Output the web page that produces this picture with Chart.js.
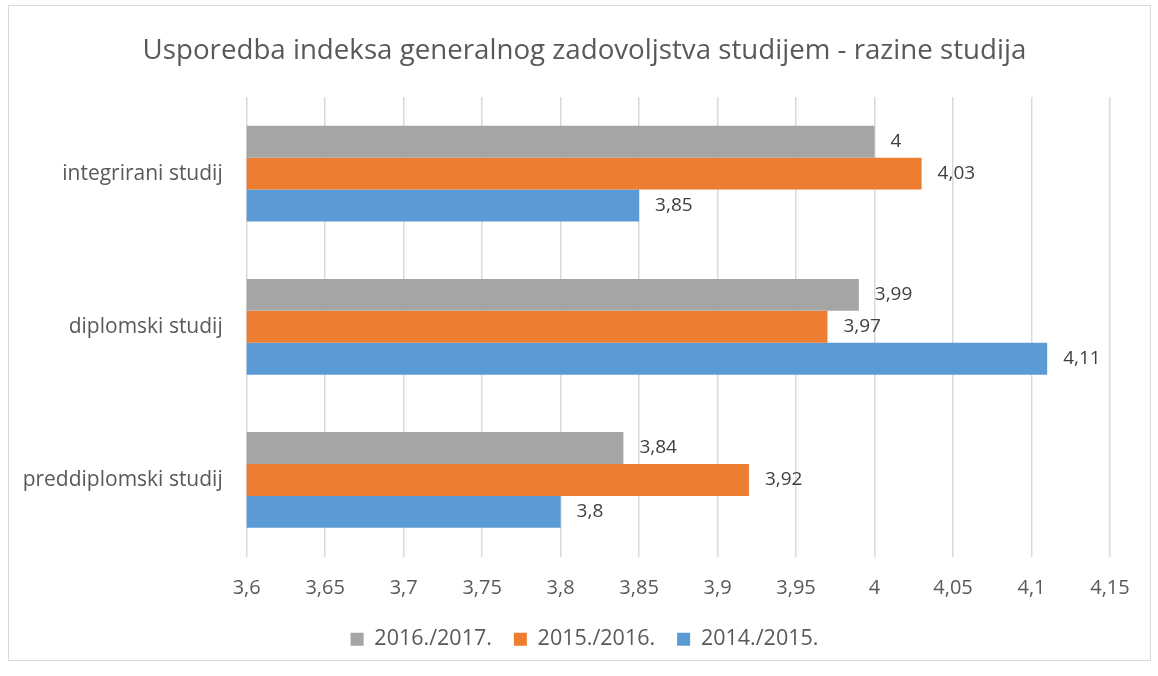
<!DOCTYPE html>
<html>
<head>
<meta charset="utf-8">
<script src="https://cdn.jsdelivr.net/npm/chart.js@4"></script>
<style>
  body { margin: 0; background: #fff; }
  #box {
    position: absolute; left: 8px; top: 5px;
    width: 1143px; height: 656px;
    box-sizing: border-box;
    border: 1px solid #d9d9d9;
  }
</style>
</head>
<body>
<div id="box"><canvas id="razineChart"></canvas></div>
<script>
  // podaci procitani s grafa
  const categories = ['integrirani studij', 'diplomski studij', 'preddiplomski studij'];
  const seriesNames = ['2016./2017.', '2015./2016.', '2014./2015.'];
  const values2016 = [4.00, 3.99, 3.84];
  const values2015 = [4.03, 3.97, 3.92];
  const values2014 = [3.85, 4.11, 3.80];
  const xTicks = [3.6, 3.65, 3.7, 3.75, 3.8, 3.85, 3.9, 3.95, 4, 4.05, 4.1, 4.15];
  const colors = ['#A5A5A5', '#ED7D31', '#5B9BD5'];

  const fmt = v => String(Number(v.toFixed(2))).replace('.', ',');
  const FONT = '"Open Sans", sans-serif';

  // oznake vrijednosti desno od stupaca
  const valueLabels = {
    id: 'valueLabels',
    afterDatasetsDraw(chart) {
      const ctx = chart.ctx;
      ctx.save();
      ctx.font = '19px ' + FONT;
      ctx.fillStyle = '#404040';
      ctx.textAlign = 'left';
      ctx.textBaseline = 'middle';
      chart.data.datasets.forEach((ds, i) => {
        chart.getDatasetMeta(i).data.forEach((bar, j) => {
          ctx.fillText(fmt(ds.data[j]), bar.x + 16, bar.y);
        });
      });
      ctx.restore();
    }
  };

  const ctx = document.getElementById('razineChart').getContext('2d');
  const razineChart = new Chart(ctx, {
    type: 'bar',
    data: {
      labels: categories,
      datasets: [
        { label: seriesNames[0], data: values2016, backgroundColor: colors[0] },
        { label: seriesNames[1], data: values2015, backgroundColor: colors[1] },
        { label: seriesNames[2], data: values2014, backgroundColor: colors[2] }
      ]
    },
    options: {
      indexAxis: 'y',
      responsive: true,
      maintainAspectRatio: false,
      animation: false,
      datasets: {
        bar: { barPercentage: 1, categoryPercentage: 0.625 }
      },
      layout: { padding: { left: 10, right: 0, top: 0, bottom: 0 } },
      plugins: {
        title: {
          display: true,
          text: 'Usporedba indeksa generalnog zadovoljstva studijem - razine studija',
          color: '#595959',
          font: { family: FONT, size: 27.7, weight: 'normal' },
          padding: { top: 28.5, bottom: 29.3 }
        },
        legend: {
          position: 'bottom',
          labels: {
            color: '#595959',
            font: { family: FONT, size: 21.5 },
            boxWidth: 13,
            boxHeight: 13,
            padding: 22
          }
        },
        tooltip: { enabled: false }
      },
      scales: {
        x: {
          min: 3.6,
          max: 4.1755,
          afterBuildTicks: scale => { scale.ticks = xTicks.map(v => ({ value: v })); },
          afterFit: scale => { scale.height = 50; },
          ticks: {
            color: '#595959',
            font: { family: FONT, size: 20 },
            padding: 20,
            callback: v => fmt(v)
          },
          grid: { color: '#d9d9d9', lineWidth: 1.5, drawTicks: false },
          border: { display: false }
        },
        y: {
          afterFit: scale => { scale.width = 227.7; },
          ticks: {
            color: '#595959',
            font: { family: FONT, size: 21 },
            padding: 16
          },
          grid: { display: false },
          border: { display: false }
        }
      }
    },
    plugins: [valueLabels]
  });
</script>
</body>
</html>
